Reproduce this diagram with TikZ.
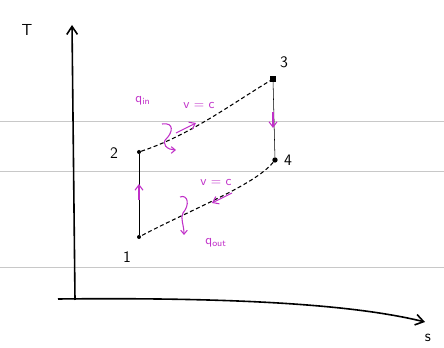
\documentclass[tikz,border=0pt]{standalone}
\usepackage{tikz}
\usetikzlibrary{calc,arrows.meta,positioning}
\definecolor{ts-heat}{HTML}{C030C8}
\definecolor{ts-grid}{HTML}{C8C8C8}

\begin{document}
\begin{tikzpicture}[x=0.75pt,y=-0.75pt,
  pt/.style={circle,fill=black,inner sep=0pt,minimum size=3pt},
  lbl/.style={font=\sffamily\large},
  heat/.style={ts-heat,font=\sffamily},
  flow/.style={ts-heat,thick,-{Straight Barb[length=4pt,width=6pt]}}]
\useasboundingbox (0,0) rectangle (444,348);
% ruled paper
\foreach \y in {121,171,267}
  \draw[ts-grid,line width=0.5pt] (0,\y) -- (444,\y);
% axes
\coordinate (o) at (75,300);
\coordinate (ttop) at (72,25);
\coordinate (xl) at (58,299);
\coordinate (sr) at (425,322);
\draw[line width=1.2pt,-{Straight Barb[length=6pt,width=8pt]}] (o) -- (ttop);
\draw[line width=1.2pt,-{Straight Barb[length=6pt,width=8pt]}] (xl) .. controls (250,297) and (360,306) .. (sr);
\node[lbl] (tlab) at (27,30) {T};
\node[lbl] (slab) at (428,338) {s};
% states
\node[pt] (s1) at (139,237) {};
\node[pt] (s2) at (139,152) {};
\node[pt,rectangle,minimum size=4pt] (s3) at (273,79) {};
\node[pt,minimum size=4pt] (s4) at (275,160) {};
\node[lbl] (n1) at (127,257) {1};
\node[lbl] (n2) at (114,153) {2};
\node[lbl] (n3) at (284,62) {3};
\node[lbl] (n4) at (288,160) {4};
% processes
\draw[thin] (s1) -- (s2);
\draw[densely dashed,thick] (s2) .. controls (190,135) and (230,105) .. (s3);
\draw[thin] (s3) -- (s4);
\draw[densely dashed,thick] (s4) .. controls (255,185) and (190,210) .. (s1);
% direction marks
\draw[flow] (139,200) -- (139,184);
\draw[flow] (273,112) -- (273,128);
\draw[flow] (176,133) -- (196,123);
\draw[flow] (232,193) -- (212,203);
% heat in / out
\draw[ts-heat,thick,-{Straight Barb[length=3pt,width=5pt]}] (162,124) .. controls (175,122) and (172,133) .. (167,138) .. controls (160,144) and (168,150) .. (176,150);
\draw[ts-heat,thick,-{Straight Barb[length=3pt,width=5pt]}] (180,197) .. controls (188,194) and (190,205) .. (183,213) .. controls (180,218) and (184,225) .. (184,235);
\node[heat] (qin) at (143,101) {q\textsubscript{in}};
\node[heat] (vc1) at (199,106) {v = c};
\node[heat] (vc2) at (216,183) {v = c};
\node[heat] (qout) at (216,243) {q\textsubscript{out}};
\end{tikzpicture}
\end{document}
